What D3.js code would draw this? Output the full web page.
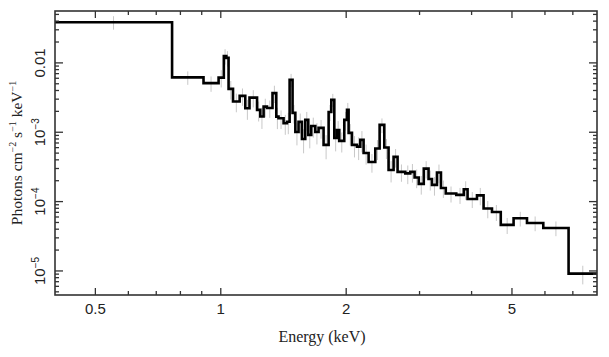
<!DOCTYPE html>
<html><head><meta charset="utf-8">
<script src="https://cdn.jsdelivr.net/npm/d3@7"></script>
<style>body{margin:0;background:#fff}svg{display:block}</style>
</head><body>
<svg id="c" width="609" height="357"></svg>
<script>
// Bin edges (keV), flux per bin (photons cm^-2 s^-1 keV^-1), fractional errors
const binEdges = [0.4, 0.764, 0.909, 0.988, 1.017, 1.031, 1.044, 1.070, 1.110, 1.145, 1.172, 1.222, 1.244, 1.267, 1.291, 1.331, 1.359, 1.376, 1.415, 1.442, 1.463, 1.487, 1.510, 1.537, 1.566, 1.595, 1.622, 1.649, 1.686, 1.717, 1.765, 1.815, 1.842, 1.873, 1.901, 1.925, 1.979, 2.009, 2.027, 2.065, 2.123, 2.162, 2.202, 2.264, 2.349, 2.406, 2.469, 2.528, 2.599, 2.657, 2.773, 2.850, 2.919, 2.987, 3.071, 3.153, 3.213, 3.303, 3.377, 3.468, 3.675, 3.831, 3.912, 4.121, 4.274, 4.477, 4.700, 5.045, 5.433, 5.945, 6.837, 8.0];
const flux = [0.0386, 0.00618, 0.00510, 0.00614, 0.0126, 0.0118, 0.00422, 0.00277, 0.00334, 0.00222, 0.00316, 0.00210, 0.00169, 0.00234, 0.00224, 0.00366, 0.00168, 0.00159, 0.00135, 0.00142, 0.00569, 0.00190, 0.00101, 0.00141, 0.000801, 0.00151, 0.000915, 0.00123, 0.00101, 0.001155, 0.000657, 0.00196, 0.00293, 0.000828, 0.00108, 0.000750, 0.00151, 0.00210, 0.000978, 0.000657, 0.000620, 0.000775, 0.000503, 0.000373, 0.000584, 0.001276, 0.000604, 0.000286, 0.000441, 0.000268, 0.000255, 0.000268, 0.000223, 0.000180, 0.000299, 0.000212, 0.000174, 0.000263, 0.000157, 0.000131, 0.000125, 0.000151, 0.000109, 0.000123, 0.0000797, 0.0000709, 0.0000461, 0.0000575, 0.0000492, 0.0000417, 0.00000914];
const errFrac = [0.22, 0.22, 0.25, 0.28, 0.25, 0.25, 0.30, 0.30, 0.28, 0.32, 0.28, 0.32, 0.34, 0.30, 0.28, 0.28, 0.34, 0.30, 0.32, 0.34, 0.22, 0.30, 0.36, 0.32, 0.38, 0.30, 0.36, 0.32, 0.34, 0.30, 0.38, 0.26, 0.22, 0.36, 0.34, 0.32, 0.30, 0.26, 0.34, 0.34, 0.36, 0.34, 0.32, 0.30, 0.32, 0.24, 0.32, 0.34, 0.30, 0.28, 0.30, 0.30, 0.30, 0.30, 0.28, 0.32, 0.30, 0.30, 0.28, 0.26, 0.26, 0.30, 0.26, 0.28, 0.28, 0.26, 0.26, 0.24, 0.24, 0.24, 0.30];
const xMajorTicks = [0.5, 1, 2, 5];
const xTickLabels = ["0.5", "1", "2", "5"];
const xMinorTicks = [0.6, 0.7, 0.8, 0.9, 3, 4, 6, 7];
const yMajorTicks = [1e-5, 1e-4, 1e-3, 1e-2];
const yTickLabels = [["10", "\u22125"], ["10", "\u22124"], ["10", "\u22123"], ["0.01", ""]];

const svg = d3.select("#c");
const L = 55, R = 597, T = 11, B = 295;
const x = d3.scaleLog().domain([0.4, 8]).range([L, R]);
const y = d3.scaleLog().domain([4.5e-6, 0.056]).range([B, T]);

svg.append("clipPath").attr("id", "clip").append("rect")
  .attr("x", L).attr("y", T).attr("width", R - L).attr("height", B - T);

const bins = flux.map((v, i) => ({ e0: binEdges[i], e1: binEdges[i + 1], v, f: errFrac[i] }));
const g = svg.append("g").attr("clip-path", "url(#clip)");

// error bars
g.selectAll("line.err").data(bins).join("line")
  .attr("x1", d => x(Math.sqrt(d.e0 * d.e1))).attr("x2", d => x(Math.sqrt(d.e0 * d.e1)))
  .attr("y1", d => y(d.v * (1 + d.f))).attr("y2", d => y(d.v * (1 - d.f)))
  .attr("stroke", "#c8c8c8").attr("stroke-width", 1);

// step line
const pts = [];
bins.forEach(d => { pts.push([d.e0, d.v]); pts.push([d.e1, d.v]); });
g.append("path").datum(pts)
  .attr("d", d3.line().x(d => x(d[0])).y(d => y(d[1])))
  .attr("fill", "none").attr("stroke", "#000").attr("stroke-width", 2.6)
  .attr("stroke-linejoin", "miter");

// frame
const axc = "#333";
svg.append("rect").attr("x", L).attr("y", T).attr("width", R - L).attr("height", B - T)
  .attr("fill", "none").attr("stroke", axc).attr("stroke-width", 1.6);

// x ticks (bottom and top)
const tk = svg.append("g").attr("stroke", axc).attr("stroke-width", 1.3);
function xt(vals, len) {
  vals.forEach(v => {
    tk.append("line").attr("x1", x(v)).attr("x2", x(v)).attr("y1", B).attr("y2", B - len);
    tk.append("line").attr("x1", x(v)).attr("x2", x(v)).attr("y1", T).attr("y2", T + len);
  });
}
xt(xMajorTicks, 7); xt(xMinorTicks, 4);

// y ticks (left and right)
const yMinor = [];
for (let e = -6; e <= -2; e++) for (let m = 2; m <= 9; m++) {
  const v = m * Math.pow(10, e);
  if (v > 4.5e-6 && v < 0.056) yMinor.push(v);
}
function ytk(vals, len) {
  vals.forEach(v => {
    tk.append("line").attr("x1", L).attr("x2", L + len).attr("y1", y(v)).attr("y2", y(v));
    tk.append("line").attr("x1", R).attr("x2", R - len).attr("y1", y(v)).attr("y2", y(v));
  });
}
ytk(yMajorTicks, 8); ytk(yMinor, 4);

// x tick labels
svg.selectAll("text.xl").data(xMajorTicks).join("text")
  .attr("x", d => x(d)).attr("y", 314)
  .attr("text-anchor", "middle").attr("font-family", "Liberation Sans, Arial, sans-serif")
  .attr("font-size", 15).attr("fill", "#222")
  .text((d, i) => xTickLabels[i]);

// y tick labels (rotated)
yMajorTicks.forEach((v, i) => {
  const t = svg.append("text")
    .attr("transform", `translate(45,${y(v)}) rotate(-90)`)
    .attr("text-anchor", "middle").attr("font-family", "Liberation Sans, Arial, sans-serif")
    .attr("font-size", 15).attr("fill", "#222");
  t.append("tspan").text(yTickLabels[i][0]);
  if (yTickLabels[i][1]) t.append("tspan").attr("dy", -6).attr("font-size", 10).text(yTickLabels[i][1]);
});

// axis titles
svg.append("text").attr("x", 322).attr("y", 342).attr("text-anchor", "middle")
  .attr("font-family", "Liberation Serif, Times New Roman, serif").attr("font-size", 16).attr("fill", "#222")
  .text("Energy (keV)");

const yt = svg.append("text").attr("transform", `translate(22,153) rotate(-90)`)
  .attr("text-anchor", "middle").attr("font-family", "Liberation Serif, Times New Roman, serif")
  .attr("font-size", 15.5).attr("fill", "#222");
yt.append("tspan").text("Photons cm");
yt.append("tspan").attr("dy", -6).attr("font-size", 10).text("\u22122");
yt.append("tspan").attr("dy", 6).text(" s");
yt.append("tspan").attr("dy", -6).attr("font-size", 10).text("\u22121");
yt.append("tspan").attr("dy", 6).text(" keV");
yt.append("tspan").attr("dy", -6).attr("font-size", 10).text("\u22121");
</script>
</body></html>
